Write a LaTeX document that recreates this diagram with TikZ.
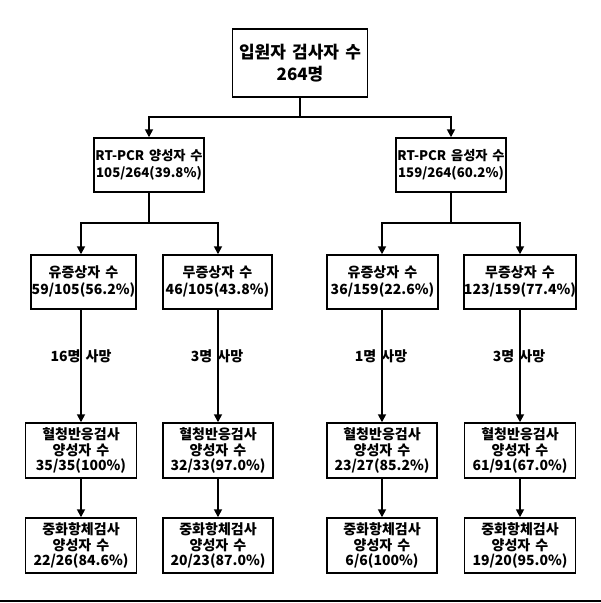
\documentclass[tikz,border=0pt]{standalone}
\usepackage{fontspec}
\setmainfont{Noto Sans CJK KR}[WordSpace=1.6]
\usetikzlibrary{arrows.meta}
\begin{document}
\begin{tikzpicture}[x=1pt,y=-1pt,
  box/.style={draw=black,line width=1.5pt,fill=white,inner sep=0pt,align=center,font=\bfseries\fontsize{14}{17}\selectfont},
  rt/.style={box,font=\bfseries\fontsize{13.2}{17}\selectfont},
  tall/.style={box,font=\bfseries\fontsize{14}{15.5}\selectfont},
  ln/.style={line width=1.7pt},
  arr/.style={ln,-{Triangle[length=8pt,width=8pt]}},
  lbl/.style={font=\bfseries\fontsize{14}{15}\selectfont,inner sep=0pt}]
\useasboundingbox (0,0) rectangle (601,603);
% top
\node[box,minimum width=135pt,minimum height=68pt,font=\bfseries\fontsize{17}{22}\selectfont] (top) at (300,63) {입원자 검사자 수\\264명};
% level 2
\node[rt,minimum width=110pt,minimum height=54pt] (rtL) at (149,165) {RT-PCR 양성자 수\\105/264(39.8\%)};
\node[rt,minimum width=110pt,minimum height=54pt] (rtR) at (451,165) {RT-PCR 음성자 수\\159/264(60.2\%)};
% level 3
\node[box,minimum width=105pt,minimum height=54pt] (s1) at (83.5,282) {유증상자 수\\59/105(56.2\%)};
\node[box,minimum width=109pt,minimum height=54pt] (s2) at (217.5,282) {무증상자 수\\46/105(43.8\%)};
\node[box,minimum width=111pt,minimum height=54pt] (s3) at (382.5,282) {유증상자 수\\36/159(22.6\%)};
\node[box,minimum width=112pt,minimum height=54pt] (s4) at (520,282) {무증상자 수\\123/159(77.4\%)};
% level 4
\node[tall,minimum width=111pt,minimum height=55pt] (r1) at (81,450.5) {혈청반응검사\\양성자 수\\35/35(100\%)};
\node[tall,minimum width=110pt,minimum height=55pt] (r2) at (218,450.5) {혈청반응검사\\양성자 수\\32/33(97.0\%)};
\node[tall,minimum width=110pt,minimum height=55pt] (r3) at (382,450.5) {혈청반응검사\\양성자 수\\23/27(85.2\%)};
\node[tall,minimum width=111pt,minimum height=55pt] (r4) at (520,450.5) {혈청반응검사\\양성자 수\\61/91(67.0\%)};
% level 5
\node[tall,minimum width=111pt,minimum height=55pt] (n1) at (81,545.5) {중화항체검사\\양성자 수\\22/26(84.6\%)};
\node[tall,minimum width=110pt,minimum height=55pt] (n2) at (218,545.5) {중화항체검사\\양성자 수\\20/23(87.0\%)};
\node[tall,minimum width=110pt,minimum height=55pt] (n3) at (382,545.5) {중화항체검사\\양성자 수\\6/6(100\%)};
\node[tall,minimum width=111pt,minimum height=55pt] (n4) at (520,545.5) {중화항체검사\\양성자 수\\19/20(95.0\%)};
% junctions
\coordinate (j0) at (300,117);
\coordinate (jL) at (149,223);
\coordinate (jR) at (451,223);
\draw[ln] (top.south) -- (j0);
\draw[arr] (j0) -| (rtL.north);
\draw[arr] (j0) -| (rtR.north);
\draw[ln] (rtL.south) -- (jL);
\draw[ln] (rtR.south) -- (jR);
\draw[arr] (jL) -| ([xshift=-2.5pt]s1.north);
\draw[arr] (jL) -| ([xshift=0.5pt]s2.north);
\draw[arr] (jR) -| ([xshift=-0.5pt]s3.north);
\draw[arr] (jR) -| (s4.north);
% death arrows
\draw[arr] ([xshift=-2.5pt]s1.south) -- (r1.north) node[lbl,pos=0.41] (d1) {16명 사망};
\draw[arr] ([xshift=0.5pt]s2.south) -- (r2.north) node[lbl,pos=0.41,xshift=-1pt] (d2) {3명 사망};
\draw[arr] ([xshift=-0.5pt]s3.south) -- (r3.north) node[lbl,pos=0.41,xshift=-1pt] (d3) {1명 사망};
\draw[arr] (s4.south) -- (r4.north) node[lbl,pos=0.41,xshift=-1pt] (d4) {3명 사망};
% level 4 to 5
\draw[arr] (r1.south) -- (n1.north);
\draw[arr] (r2.south) -- (n2.north);
\draw[arr] (r3.south) -- (n3.north);
\draw[arr] (r4.south) -- (n4.north);
% bottom rule
\coordinate (bl) at (0,601);
\coordinate (br) at (601,601);
\draw[line width=2pt] (bl) -- (br);
\end{tikzpicture}
\end{document}
